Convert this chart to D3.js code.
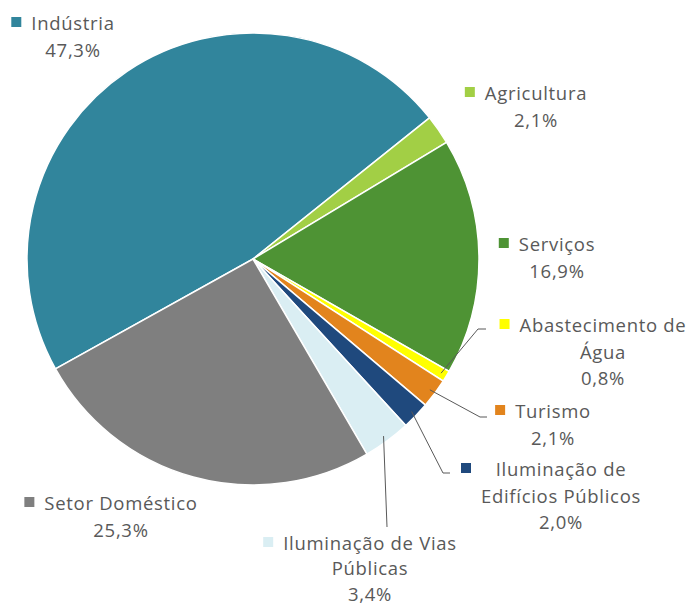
<!DOCTYPE html>
<html>
<head>
<meta charset="utf-8">
<script src="https://cdn.jsdelivr.net/npm/d3@7"></script>
<style>
  body { margin: 0; background: #fff; }
  text { font-family: "Open Sans", "Lato", sans-serif; fill: #595959; letter-spacing: 0.7px; }
</style>
</head>
<body>
<div id="chart"></div>
<script>
const SETORES = ["Indústria", "Agricultura", "Serviços", "Abastecimento de Água", "Turismo",
  "Iluminação de Edifícios Públicos", "Iluminação de Vias Públicas", "Setor Doméstico"]
const VALORES = [47.3, 2.1, 16.9, 0.8, 2.1, 2.0, 3.4, 25.3]
const ROTULOS = ["47,3%", "2,1%", "16,9%", "0,8%", "2,1%", "2,0%", "3,4%", "25,3%"]
const COLORS = ["#31859C", "#A2CF45", "#4E9334", "#FFFF00", "#E2841D", "#1F497D", "#DAEEF3", "#7F7F7F"]

// label layout: centre x, first baseline, line step, lines of the name
const LABELS = [
  { cx: 73, y: 30, lh: 26.5, lines: ["Indústria"] },
  { cx: 536, y: 100, lh: 26.5, lines: ["Agricultura"] },
  { cx: 557, y: 251, lh: 26.5, lines: ["Serviços"] },
  { cx: 603, y: 332, lh: 26.5, lines: ["Abastecimento de", "Água"] },
  { cx: 553, y: 418, lh: 26.5, lines: ["Turismo"] },
  { cx: 561, y: 476, lh: 26.5, lines: ["Iluminação de", "Edifícios Públicos"] },
  { cx: 370, y: 550, lh: 25.3, lines: ["Iluminação de Vias", "Públicas"] },
  { cx: 121, y: 510, lh: 26.5, lines: ["Setor Doméstico"] }
]
// leader lines: [elbow, end] for the small slices
const LEADERS = {
  3: [[478, 329], [486, 329]],
  4: [[480, 417], [487, 417]],
  5: [[443, 473], [450, 473]],
  6: [[387, 527]]
}

const W = 693, H = 607
const CX = 253, CY = 259, R = 226

const svg = d3.select("#chart").append("svg")
  .attr("width", W).attr("height", H)

const startA = -119.1 * Math.PI / 180
const pie = d3.pie().sort(null).startAngle(startA).endAngle(startA + 2 * Math.PI)
const arcs = pie(VALORES)
const arc = d3.arc().innerRadius(0).outerRadius(R)

const g = svg.append("g").attr("transform", `translate(${CX},${CY})`)

g.selectAll(".slice")
  .data(arcs)
  .enter()
  .append("path")
  .attr("class", "slice")
  .attr("d", arc)
  .attr("fill", (d, i) => COLORS[i])
  .attr("stroke", "#fff")
  .attr("stroke-width", 1.5)

// leader lines
Object.keys(LEADERS).forEach((k) => {
  const a = arcs[+k]
  const mid = (a.startAngle + a.endAngle) / 2
  const p0 = [CX + (R - 6) * Math.sin(mid), CY - (R - 6) * Math.cos(mid)]
  const pts = [p0].concat(LEADERS[k])
  svg.append("path")
    .attr("d", d3.line()(pts))
    .attr("fill", "none")
    .attr("stroke", "#595959")
    .attr("stroke-width", 1)
})

// labels
LABELS.forEach((l, i) => {
  const lg = svg.append("g")
  const lines = l.lines.concat([ROTULOS[i]])
  let w = 0
  lines.forEach((t, j) => {
    const tx = lg.append("text")
      .attr("x", l.cx)
      .attr("y", l.y + j * l.lh)
      .attr("text-anchor", "middle")
      .style("font-size", "18.5px")
      .text(t)
    w = Math.max(w, tx.node().getComputedTextLength())
  })
  lg.append("rect")
    .attr("x", l.cx - w / 2 - 20)
    .attr("y", l.y - 13)
    .attr("width", 10)
    .attr("height", 10)
    .attr("fill", COLORS[i])
})
</script>
</body>
</html>
